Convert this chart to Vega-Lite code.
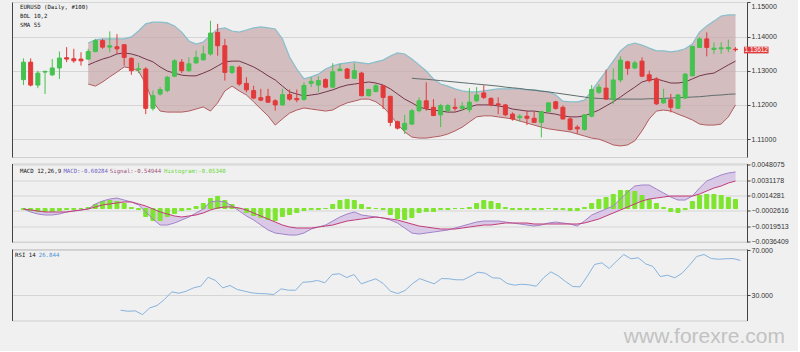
{
"$schema":"https://vega.github.io/schema/vega-lite/v6.json",
"background":"#f0f0f0",
"padding":{"left":11,"top":1,"right":9,"bottom":3},
"spacing":6.5,
"bounds":"flush",
"config":{
 "font":"Liberation Sans",
 "view":{"stroke":"#cfcfcf"},
 "axis":{"labelFont":"Liberation Sans","labelFontSize":7,"labelColor":"#333333","domainColor":"#444444","tickColor":"#444444","gridColor":"#d5d5d5","gridWidth":1,"tickSize":3,"labelPadding":1,"domainWidth":1},
 "text":{"font":"DejaVu Sans Mono","fontSize":5.7}
},
"datasets":{"k":[
{"i":0,"o":1.1274,"h":1.1336,"l":1.1258,"c":1.1325,"md":-0.00005,"sg":-0.00005,"hs":-0.00011},
{"i":1,"o":1.1325,"h":1.1336,"l":1.1254,"c":1.1258,"md":-0.00038,"sg":-0.00016,"hs":-0.00022},
{"i":2,"o":1.1258,"h":1.13,"l":1.1249,"c":1.1293,"md":-0.0006,"sg":-0.00027,"hs":-0.00033},
{"i":3,"o":1.1296,"h":1.13,"l":1.1232,"c":1.1298,"md":-0.00071,"sg":-0.00038,"hs":-0.00033},
{"i":4,"o":1.1288,"h":1.1334,"l":1.1284,"c":1.1308,"md":-0.00071,"sg":-0.00038,"hs":-0.00033},
{"i":5,"o":1.1308,"h":1.1356,"l":1.1276,"c":1.1337,"md":-0.0006,"sg":-0.00038,"hs":-0.00022},
{"i":6,"o":1.1338,"h":1.1369,"l":1.1325,"c":1.1334,"md":-0.00038,"sg":-0.00038,"hs":-0.00011},
{"i":7,"o":1.1335,"h":1.1364,"l":1.1323,"c":1.1329,"md":-0.00027,"sg":-0.00027,"hs":-0.00011},
{"i":8,"o":1.1334,"h":1.1354,"l":1.1315,"c":1.1329,"md":-0.00016,"sg":-0.00016,"hs":0},
{"i":9,"o":1.1334,"h":1.1364,"l":1.1332,"c":1.1356,"u":1.1381,"lo":1.1261,"m":1.1317,"md":-0.00005,"sg":-0.00005,"hs":0.00011},
{"i":10,"o":1.1356,"h":1.1393,"l":1.1354,"c":1.1388,"u":1.139,"lo":1.1255,"m":1.1326,"md":0.0005,"sg":0.00017,"hs":0.00044},
{"i":11,"o":1.1388,"h":1.1393,"l":1.1364,"c":1.1369,"u":1.1393,"lo":1.1267,"m":1.1334,"md":0.00083,"sg":0.00039,"hs":0.00077},
{"i":12,"o":1.1369,"h":1.1415,"l":1.1354,"c":1.1373,"u":1.1393,"lo":1.1282,"m":1.134,"md":0.00104,"sg":0.0005,"hs":0.00088},
{"i":13,"o":1.137,"h":1.1407,"l":1.1349,"c":1.1364,"u":1.1393,"lo":1.1296,"m":1.1349,"md":0.00115,"sg":0.00061,"hs":0.00077},
{"i":14,"o":1.1376,"h":1.1376,"l":1.1315,"c":1.1339,"u":1.1393,"lo":1.1311,"m":1.1352,"md":0.00093,"sg":0.00072,"hs":0.00055,"r":16.6},
{"i":15,"o":1.1336,"h":1.1339,"l":1.1288,"c":1.13,"u":1.1399,"lo":1.1308,"m":1.1349,"md":0.00072,"sg":0.00072,"hs":0.00011,"r":15.7},
{"i":16,"o":1.1303,"h":1.1323,"l":1.1293,"c":1.1306,"u":1.1416,"lo":1.1299,"m":1.1343,"md":0.00039,"sg":0.0005,"hs":-0.00011,"r":16},
{"i":17,"o":1.1305,"h":1.131,"l":1.1173,"c":1.119,"u":1.1437,"lo":1.1261,"m":1.1334,"md":-0.00038,"sg":0.00028,"hs":-0.00088,"r":12.7},
{"i":18,"o":1.119,"h":1.1242,"l":1.1183,"c":1.1227,"u":1.1442,"lo":1.1209,"m":1.1326,"md":-0.00115,"sg":-0.00005,"hs":-0.00132,"r":18.7},
{"i":19,"o":1.1232,"h":1.1252,"l":1.1227,"c":1.1245,"u":1.1442,"lo":1.1182,"m":1.1311,"md":-0.00181,"sg":-0.00038,"hs":-0.00132,"r":20.8},
{"i":20,"o":1.1242,"h":1.1285,"l":1.1237,"c":1.1281,"u":1.144,"lo":1.1179,"m":1.1299,"md":-0.00181,"sg":-0.0006,"hs":-0.00088,"r":26.2},
{"i":21,"o":1.1284,"h":1.1334,"l":1.1281,"c":1.1329,"u":1.1431,"lo":1.1179,"m":1.1293,"md":-0.00159,"sg":-0.00082,"hs":-0.00055,"r":33},
{"i":22,"o":1.1325,"h":1.1334,"l":1.1293,"c":1.13,"u":1.1413,"lo":1.1179,"m":1.1287,"md":-0.00126,"sg":-0.00093,"hs":-0.00022,"r":31.8},
{"i":23,"o":1.13,"h":1.1339,"l":1.1297,"c":1.132,"u":1.1387,"lo":1.1182,"m":1.1285,"md":-0.00093,"sg":-0.00082,"hs":-0.00011,"r":33.6},
{"i":24,"o":1.1323,"h":1.1359,"l":1.132,"c":1.1339,"u":1.1378,"lo":1.1188,"m":1.1285,"md":-0.00049,"sg":-0.00071,"hs":0.00022,"r":36.6},
{"i":25,"o":1.1332,"h":1.1373,"l":1.1329,"c":1.1349,"u":1.1384,"lo":1.1194,"m":1.1293,"md":-0.00005,"sg":-0.00049,"hs":0.00055,"r":38.1},
{"i":26,"o":1.1349,"h":1.1446,"l":1.1344,"c":1.141,"u":1.1404,"lo":1.1182,"m":1.1302,"md":0.00072,"sg":-0.00016,"hs":0.0011,"r":46.1},
{"i":27,"o":1.1412,"h":1.1437,"l":1.1344,"c":1.1373,"u":1.1422,"lo":1.1206,"m":1.1314,"md":0.00083,"sg":0.00006,"hs":0.00132,"r":43.2},
{"i":28,"o":1.1373,"h":1.1393,"l":1.1271,"c":1.1295,"u":1.1425,"lo":1.1241,"m":1.1326,"md":0.00072,"sg":0.00017,"hs":0.00088,"r":36.6},
{"i":29,"o":1.1295,"h":1.1315,"l":1.129,"c":1.1312,"u":1.1416,"lo":1.1255,"m":1.1328,"md":0.00028,"sg":0.00017,"hs":0.00044,"r":38.7},
{"i":30,"o":1.131,"h":1.1315,"l":1.1256,"c":1.1261,"u":1.1413,"lo":1.1241,"m":1.1328,"md":-0.00027,"sg":0.00006,"hs":0,"r":35.1},
{"i":31,"o":1.1263,"h":1.1281,"l":1.1237,"c":1.1244,"u":1.1419,"lo":1.1229,"m":1.132,"md":-0.00082,"sg":-0.00016,"hs":-0.00044,"r":33.6},
{"i":32,"o":1.1242,"h":1.1256,"l":1.1217,"c":1.122,"u":1.1425,"lo":1.1209,"m":1.1311,"md":-0.00126,"sg":-0.00049,"hs":-0.00077,"r":32.1},
{"i":33,"o":1.1221,"h":1.1247,"l":1.1211,"c":1.1214,"u":1.1428,"lo":1.1188,"m":1.1299,"md":-0.00181,"sg":-0.00082,"hs":-0.00099,"r":31.5},
{"i":34,"o":1.1225,"h":1.1247,"l":1.1206,"c":1.1208,"u":1.1425,"lo":1.1168,"m":1.1285,"md":-0.00236,"sg":-0.00115,"hs":-0.00121,"r":31.3},
{"i":35,"o":1.1212,"h":1.1217,"l":1.1183,"c":1.12,"u":1.1422,"lo":1.1141,"m":1.1273,"md":-0.00269,"sg":-0.00148,"hs":-0.00132,"r":30.6},
{"i":36,"o":1.12,"h":1.1247,"l":1.1198,"c":1.123,"u":1.1393,"lo":1.1159,"m":1.1255,"md":-0.0028,"sg":-0.00181,"hs":-0.00088,"r":35.7},
{"i":37,"o":1.123,"h":1.1245,"l":1.1212,"c":1.1217,"u":1.134,"lo":1.1176,"m":1.1238,"md":-0.00291,"sg":-0.00203,"hs":-0.00066,"r":34.5},
{"i":38,"o":1.1219,"h":1.1245,"l":1.1208,"c":1.1215,"u":1.1305,"lo":1.1185,"m":1.1232,"md":-0.00291,"sg":-0.00214,"hs":-0.00044,"r":34.5},
{"i":39,"o":1.1216,"h":1.1266,"l":1.1212,"c":1.1257,"u":1.1276,"lo":1.1191,"m":1.1226,"md":-0.00269,"sg":-0.00214,"hs":-0.00022,"r":41.6},
{"i":40,"o":1.1263,"h":1.1281,"l":1.1252,"c":1.1269,"u":1.1282,"lo":1.1188,"m":1.1229,"md":-0.00225,"sg":-0.00214,"hs":-0.00011,"r":42},
{"i":41,"o":1.1258,"h":1.1284,"l":1.1237,"c":1.1271,"u":1.129,"lo":1.1185,"m":1.1232,"md":-0.00203,"sg":-0.00203,"hs":-0.00011,"r":43.2},
{"i":42,"o":1.1274,"h":1.1278,"l":1.1249,"c":1.1252,"u":1.1305,"lo":1.1182,"m":1.1238,"md":-0.00181,"sg":-0.00192,"hs":0,"r":41.1},
{"i":43,"o":1.1252,"h":1.1322,"l":1.1249,"c":1.1297,"u":1.1314,"lo":1.1185,"m":1.1244,"md":-0.00137,"sg":-0.00181,"hs":0.00044,"r":48.5},
{"i":44,"o":1.13,"h":1.132,"l":1.1299,"c":1.1305,"u":1.132,"lo":1.1197,"m":1.1252,"md":-0.00093,"sg":-0.00159,"hs":0.00088,"r":49.2},
{"i":45,"o":1.1305,"h":1.1308,"l":1.1276,"c":1.1278,"u":1.1323,"lo":1.1206,"m":1.1258,"md":-0.0006,"sg":-0.00137,"hs":0.00099,"r":45.8},
{"i":46,"o":1.1278,"h":1.1322,"l":1.1276,"c":1.13,"u":1.1326,"lo":1.1211,"m":1.1261,"md":-0.00038,"sg":-0.00126,"hs":0.00088,"r":48.5},
{"i":47,"o":1.1293,"h":1.1297,"l":1.1225,"c":1.1227,"u":1.1323,"lo":1.1217,"m":1.1264,"md":-0.00071,"sg":-0.00115,"hs":0.00044,"r":40.2},
{"i":48,"o":1.1227,"h":1.1247,"l":1.1225,"c":1.1245,"u":1.132,"lo":1.1217,"m":1.1267,"md":-0.00082,"sg":-0.00104,"hs":0.00011,"r":42.5},
{"i":49,"o":1.1239,"h":1.1261,"l":1.1237,"c":1.1256,"u":1.1326,"lo":1.1209,"m":1.1264,"md":-0.00093,"sg":-0.00093,"hs":0,"r":44.7},
{"i":50,"o":1.1256,"h":1.1258,"l":1.1188,"c":1.1222,"u":1.1331,"lo":1.1194,"m":1.1258,"md":-0.00104,"sg":-0.00104,"hs":-0.00011,"r":40.5},
{"i":51,"o":1.1225,"h":1.1227,"l":1.1138,"c":1.1149,"u":1.1343,"lo":1.1171,"m":1.1247,"md":-0.00126,"sg":-0.00115,"hs":-0.00066,"r":33.6},
{"i":52,"o":1.1151,"h":1.1154,"l":1.1128,"c":1.1132,"u":1.1352,"lo":1.1144,"m":1.1232,"md":-0.00159,"sg":-0.00126,"hs":-0.0011,"r":31.5},
{"i":53,"o":1.1128,"h":1.1171,"l":1.1115,"c":1.1146,"u":1.1349,"lo":1.1121,"m":1.1217,"md":-0.00214,"sg":-0.00148,"hs":-0.00121,"r":34.2},
{"i":54,"o":1.1144,"h":1.1188,"l":1.1141,"c":1.1183,"u":1.1334,"lo":1.1106,"m":1.1206,"s":1.1278,"md":-0.00269,"sg":-0.0017,"hs":-0.00099,"r":40.2},
{"i":55,"o":1.1183,"h":1.1222,"l":1.1178,"c":1.1212,"u":1.1317,"lo":1.1103,"m":1.1194,"s":1.1276,"md":-0.0028,"sg":-0.00192,"hs":-0.00044,"r":44.9},
{"i":56,"o":1.1212,"h":1.1266,"l":1.1183,"c":1.119,"u":1.1299,"lo":1.1103,"m":1.1188,"s":1.1275,"md":-0.00269,"sg":-0.00203,"hs":-0.00033,"r":42.5},
{"i":57,"o":1.1193,"h":1.1217,"l":1.1167,"c":1.1169,"u":1.1276,"lo":1.1106,"m":1.1185,"s":1.1273,"md":-0.00258,"sg":-0.00214,"hs":-0.00033,"r":40.2},
{"i":58,"o":1.1171,"h":1.1203,"l":1.1135,"c":1.1198,"u":1.1261,"lo":1.1109,"m":1.1182,"s":1.1271,"md":-0.00247,"sg":-0.00225,"hs":-0.00011,"r":44.9},
{"i":59,"o":1.1183,"h":1.1203,"l":1.118,"c":1.1198,"u":1.1255,"lo":1.1115,"m":1.1179,"s":1.1269,"md":-0.00236,"sg":-0.00225,"hs":-0.00011,"r":44.7},
{"i":60,"o":1.1193,"h":1.1219,"l":1.1183,"c":1.119,"u":1.1247,"lo":1.1124,"m":1.1179,"s":1.1267,"md":-0.00214,"sg":-0.00225,"hs":0,"r":43.8},
{"i":61,"o":1.119,"h":1.1208,"l":1.1183,"c":1.1196,"u":1.1241,"lo":1.1135,"m":1.1185,"s":1.1265,"md":-0.00192,"sg":-0.00214,"hs":0,"r":43.8},
{"i":62,"o":1.1186,"h":1.1249,"l":1.1178,"c":1.1208,"u":1.1238,"lo":1.115,"m":1.1194,"s":1.1263,"md":-0.0017,"sg":-0.00203,"hs":0.00011,"r":47},
{"i":63,"o":1.1212,"h":1.1252,"l":1.1208,"c":1.1229,"u":1.1238,"lo":1.1165,"m":1.12,"s":1.1261,"md":-0.00148,"sg":-0.00192,"hs":0.00055,"r":50.6},
{"i":64,"o":1.1235,"h":1.1258,"l":1.1217,"c":1.1222,"u":1.1241,"lo":1.1168,"m":1.12,"s":1.1259,"md":-0.00137,"sg":-0.00181,"hs":0.00088,"r":49.7},
{"i":65,"o":1.1219,"h":1.1222,"l":1.1196,"c":1.12,"u":1.1244,"lo":1.1168,"m":1.12,"s":1.1257,"md":-0.00137,"sg":-0.00181,"hs":0.00077,"r":45.6},
{"i":66,"o":1.1203,"h":1.1222,"l":1.1173,"c":1.12,"u":1.1247,"lo":1.1165,"m":1.1197,"s":1.1255,"md":-0.00137,"sg":-0.0017,"hs":0.00055,"r":45.2},
{"i":67,"o":1.12,"h":1.1203,"l":1.1167,"c":1.1171,"u":1.1247,"lo":1.1162,"m":1.1194,"s":1.1252,"md":-0.00148,"sg":-0.00159,"hs":0.00011,"r":40.5},
{"i":68,"o":1.1173,"h":1.1178,"l":1.1154,"c":1.1159,"u":1.1247,"lo":1.1159,"m":1.1188,"s":1.125,"md":-0.00159,"sg":-0.00159,"hs":-0.00011,"r":39},
{"i":69,"o":1.1163,"h":1.1173,"l":1.1151,"c":1.1167,"u":1.1247,"lo":1.1153,"m":1.1185,"s":1.1248,"md":-0.0017,"sg":-0.00159,"hs":-0.00011,"r":39.8},
{"i":70,"o":1.1167,"h":1.1183,"l":1.1141,"c":1.1161,"u":1.1244,"lo":1.1147,"m":1.1182,"s":1.1245,"md":-0.00181,"sg":-0.00159,"hs":-0.00011,"r":39.3},
{"i":71,"o":1.1161,"h":1.118,"l":1.1147,"c":1.1149,"u":1.1244,"lo":1.1141,"m":1.1182,"s":1.1243,"md":-0.00192,"sg":-0.0017,"hs":-0.00011,"r":38.1},
{"i":72,"o":1.1149,"h":1.1183,"l":1.1105,"c":1.118,"u":1.1241,"lo":1.1135,"m":1.1179,"s":1.124,"md":-0.00181,"sg":-0.0017,"hs":-0.00011,"r":45.6},
{"i":73,"o":1.118,"h":1.1208,"l":1.1178,"c":1.1206,"u":1.1238,"lo":1.113,"m":1.1176,"s":1.1238,"md":-0.00159,"sg":-0.0017,"hs":0,"r":50.9},
{"i":74,"o":1.1209,"h":1.1212,"l":1.1186,"c":1.119,"u":1.1229,"lo":1.1127,"m":1.1173,"s":1.1235,"md":-0.00148,"sg":-0.0017,"hs":-0.00011,"r":47.4},
{"i":75,"o":1.1193,"h":1.1198,"l":1.1157,"c":1.1159,"u":1.1211,"lo":1.1124,"m":1.1168,"s":1.1232,"md":-0.00159,"sg":-0.0017,"hs":-0.00011,"r":42.3},
{"i":76,"o":1.1159,"h":1.1164,"l":1.1125,"c":1.1128,"u":1.1209,"lo":1.1121,"m":1.1165,"s":1.1229,"md":-0.0017,"sg":-0.0017,"hs":-0.00022,"r":37.8},
{"i":77,"o":1.1135,"h":1.1141,"l":1.1115,"c":1.113,"u":1.1209,"lo":1.1115,"m":1.1165,"s":1.1226,"md":-0.00192,"sg":-0.0017,"hs":-0.00022,"r":37.5},
{"i":78,"o":1.1128,"h":1.1173,"l":1.1125,"c":1.1171,"u":1.1214,"lo":1.1109,"m":1.1168,"s":1.1223,"md":-0.00137,"sg":-0.00159,"hs":0.00011,"r":47},
{"i":79,"o":1.1167,"h":1.1258,"l":1.1164,"c":1.1245,"u":1.1241,"lo":1.1103,"m":1.1176,"s":1.122,"md":-0.00071,"sg":-0.00137,"hs":0.00055,"r":57.5},
{"i":80,"o":1.1237,"h":1.1261,"l":1.1232,"c":1.1252,"u":1.127,"lo":1.11,"m":1.1185,"s":1.1219,"md":-0.00038,"sg":-0.00115,"hs":0.00099,"r":59},
{"i":81,"o":1.1249,"h":1.1303,"l":1.1215,"c":1.1217,"u":1.1299,"lo":1.1092,"m":1.1197,"s":1.1218,"md":-0.00005,"sg":-0.00082,"hs":0.00121,"r":53.9},
{"i":82,"o":1.1217,"h":1.1307,"l":1.1203,"c":1.1273,"u":1.1328,"lo":1.1083,"m":1.1209,"s":1.1217,"md":0.00028,"sg":-0.00049,"hs":0.00154,"r":60.4},
{"i":83,"o":1.1273,"h":1.1342,"l":1.1266,"c":1.1331,"u":1.1358,"lo":1.108,"m":1.1223,"s":1.1217,"md":0.00104,"sg":-0.00016,"hs":0.00198,"r":66.4},
{"i":84,"o":1.1326,"h":1.1329,"l":1.1288,"c":1.1307,"u":1.1375,"lo":1.1083,"m":1.1238,"s":1.1217,"md":0.00181,"sg":0.00017,"hs":0.00198,"r":62.6},
{"i":85,"o":1.1308,"h":1.1329,"l":1.1305,"c":1.1323,"u":1.1381,"lo":1.1095,"m":1.1252,"s":1.1217,"md":0.00247,"sg":0.0005,"hs":0.00187,"r":63.5},
{"i":86,"o":1.1328,"h":1.1339,"l":1.1281,"c":1.1284,"u":1.1375,"lo":1.1124,"m":1.1267,"s":1.1217,"md":0.00258,"sg":0.00083,"hs":0.00143,"r":58.1},
{"i":87,"o":1.1288,"h":1.13,"l":1.1266,"c":1.1271,"u":1.1366,"lo":1.1159,"m":1.1273,"s":1.1218,"md":0.00258,"sg":0.00104,"hs":0.00099,"r":55.7},
{"i":88,"o":1.1276,"h":1.1281,"l":1.12,"c":1.1203,"u":1.1358,"lo":1.1182,"m":1.1276,"s":1.1218,"md":0.00214,"sg":0.00115,"hs":0.00055,"r":46.7},
{"i":89,"o":1.1206,"h":1.1247,"l":1.1203,"c":1.1217,"u":1.1358,"lo":1.1185,"m":1.127,"s":1.1219,"md":0.0017,"sg":0.00126,"hs":0.00011,"r":47.9},
{"i":90,"o":1.1215,"h":1.1232,"l":1.1178,"c":1.1193,"u":1.1355,"lo":1.1182,"m":1.1264,"s":1.122,"md":0.00126,"sg":0.00137,"hs":-0.00033,"r":45.6},
{"i":91,"o":1.119,"h":1.1232,"l":1.1188,"c":1.1229,"u":1.1358,"lo":1.1173,"m":1.1264,"s":1.1221,"md":0.00093,"sg":0.00137,"hs":-0.00044,"r":49.7},
{"i":92,"o":1.122,"h":1.1293,"l":1.1217,"c":1.129,"u":1.1364,"lo":1.1165,"m":1.1267,"s":1.1222,"md":0.00093,"sg":0.00137,"hs":-0.00011,"r":56.8},
{"i":93,"o":1.1285,"h":1.1373,"l":1.1284,"c":1.1371,"u":1.1378,"lo":1.1156,"m":1.1276,"s":1.1223,"md":0.00137,"sg":0.00137,"hs":0.00077,"r":64.6},
{"i":94,"o":1.1368,"h":1.1398,"l":1.1366,"c":1.1393,"u":1.1413,"lo":1.1144,"m":1.1285,"s":1.1224,"md":0.00225,"sg":0.00159,"hs":0.00143,"r":66.4},
{"i":95,"o":1.1393,"h":1.1412,"l":1.1342,"c":1.1368,"u":1.1431,"lo":1.1141,"m":1.129,"s":1.1226,"md":0.00302,"sg":0.00192,"hs":0.00154,"r":62.8},
{"i":96,"o":1.1362,"h":1.1383,"l":1.1349,"c":1.1366,"u":1.1445,"lo":1.1141,"m":1.1293,"s":1.1228,"md":0.00335,"sg":0.00225,"hs":0.00154,"r":62.2},
{"i":97,"o":1.1364,"h":1.1383,"l":1.1349,"c":1.1367,"u":1.146,"lo":1.1144,"m":1.1305,"s":1.1229,"md":0.00368,"sg":0.00247,"hs":0.00143,"r":62.6},
{"i":98,"o":1.1364,"h":1.1391,"l":1.1354,"c":1.1368,"u":1.1463,"lo":1.1165,"m":1.1317,"s":1.1231,"md":0.0039,"sg":0.0028,"hs":0.00121,"r":62.8},
{"i":99,"o":1.1363,"h":1.1369,"l":1.1356,"c":1.13612,"u":1.1463,"lo":1.12,"m":1.1328,"s":1.1232,"md":0.00401,"sg":0.00302,"hs":0.00099,"r":61.1}
]},
"vconcat":[
{"width":735,"height":155,
 "resolve":{"axis":{"y":"independent"}},
 "layer":[
  {"data":{"name":"k"},"mark":{"type":"area","color":"#c8a7aa","opacity":0.7},
   "encoding":{
    "x":{"field":"i","type":"quantitative","scale":{"domain":[-0.9,99.9],"nice":false,"zero":false},"axis":{"values":[4,8,12,16,20,24,28,32,36,40,44,48,52,56,60,64,68,72,76,80,84,88,92,96],"labels":false,"grid":true,"title":null}},
    "y":{"field":"u","type":"quantitative","scale":{"domain":[1.10477,1.15009],"nice":false,"zero":false},"axis":{"orient":"right","values":[1.11,1.12,1.13,1.14,1.15],"format":".5f","grid":true,"title":null,"labelFlush":1}},
    "y2":{"field":"lo"}}},
  {"data":{"name":"k"},"mark":{"type":"line","color":"#86bfcb","strokeWidth":1.2},
   "encoding":{"x":{"field":"i","type":"quantitative","scale":{"domain":[-0.9,99.9],"nice":false,"zero":false},"axis":null},
    "y":{"field":"u","type":"quantitative","scale":{"domain":[1.10477,1.15009],"nice":false,"zero":false},"axis":null}}},
  {"data":{"name":"k"},"mark":{"type":"line","color":"#b35c60","strokeWidth":1},
   "encoding":{"x":{"field":"i","type":"quantitative","scale":{"domain":[-0.9,99.9],"nice":false,"zero":false},"axis":null},
    "y":{"field":"lo","type":"quantitative","scale":{"domain":[1.10477,1.15009],"nice":false,"zero":false},"axis":null}}},
  {"data":{"name":"k"},"mark":{"type":"line","color":"#73364a","strokeWidth":1},
   "encoding":{"x":{"field":"i","type":"quantitative","scale":{"domain":[-0.9,99.9],"nice":false,"zero":false},"axis":null},
    "y":{"field":"m","type":"quantitative","scale":{"domain":[1.10477,1.15009],"nice":false,"zero":false},"axis":{"orient":"left","labels":false,"ticks":false,"grid":false,"title":null}}}},
  {"data":{"name":"k"},"mark":{"type":"line","color":"#5f6d6d","strokeWidth":1},
   "encoding":{"x":{"field":"i","type":"quantitative","scale":{"domain":[-0.9,99.9],"nice":false,"zero":false},"axis":null},
    "y":{"field":"s","type":"quantitative","scale":{"domain":[1.10477,1.15009],"nice":false,"zero":false},"axis":null}}},
  {"data":{"name":"k"},"mark":{"type":"rule","strokeWidth":1},
   "encoding":{"x":{"field":"i","type":"quantitative","scale":{"domain":[-0.9,99.9],"nice":false,"zero":false},"axis":null},
    "y":{"field":"l","type":"quantitative","scale":{"domain":[1.10477,1.15009],"nice":false,"zero":false},"axis":null},
    "y2":{"field":"h"},
    "color":{"condition":{"test":"datum.c >= datum.o","value":"#45c24f"},"value":"#e23a3a"}}},
  {"data":{"name":"k"},"mark":{"type":"bar","size":4,"strokeWidth":1},
   "encoding":{"x":{"field":"i","type":"quantitative","scale":{"domain":[-0.9,99.9],"nice":false,"zero":false},"axis":null},
    "y":{"field":"o","type":"quantitative","scale":{"domain":[1.10477,1.15009],"nice":false,"zero":false},"axis":null},
    "y2":{"field":"c"},
    "fill":{"condition":{"test":"datum.c >= datum.o","value":"#45c24f"},"value":"#e23a3a"},
    "stroke":{"condition":{"test":"datum.c >= datum.o","value":"#45c24f"},"value":"#e23a3a"}}},
  {"data":{"values":[{}]},"mark":{"type":"text","align":"left","baseline":"middle","color":"#111111"},
   "encoding":{"x":{"datum":-0.48,"type":"quantitative","scale":{"domain":[-0.9,99.9],"nice":false,"zero":false},"axis":null},
    "y":{"datum":1.1486,"type":"quantitative","scale":{"domain":[1.10477,1.15009],"nice":false,"zero":false},"axis":null},
    "text":{"value":"EURUSD (Daily, #100)"}}},
  {"data":{"values":[{}]},"mark":{"type":"text","align":"left","baseline":"middle","color":"#111111"},
   "encoding":{"x":{"datum":-0.48,"type":"quantitative","scale":{"domain":[-0.9,99.9],"nice":false,"zero":false},"axis":null},
    "y":{"datum":1.146,"type":"quantitative","scale":{"domain":[1.10477,1.15009],"nice":false,"zero":false},"axis":null},
    "text":{"value":"BOL 10,2"}}},
  {"data":{"values":[{}]},"mark":{"type":"text","align":"left","baseline":"middle","color":"#111111"},
   "encoding":{"x":{"datum":-0.48,"type":"quantitative","scale":{"domain":[-0.9,99.9],"nice":false,"zero":false},"axis":null},
    "y":{"datum":1.1434,"type":"quantitative","scale":{"domain":[1.10477,1.15009],"nice":false,"zero":false},"axis":null},
    "text":{"value":"SMA 55"}}},
  {"data":{"values":[{}]},"mark":{"type":"rect","color":"#e03c3c"},
   "encoding":{"x":{"datum":100.17,"type":"quantitative","scale":{"domain":[-0.9,99.9],"nice":false,"zero":false},"axis":null},
    "x2":{"datum":103.59},
    "y":{"datum":1.13506,"type":"quantitative","scale":{"domain":[1.10477,1.15009],"nice":false,"zero":false},"axis":null},
    "y2":{"datum":1.13702}}},
  {"data":{"values":[{}]},"mark":{"type":"text","align":"center","baseline":"middle","font":"Liberation Sans","fontSize":6.5,"color":"#ffffff"},
   "encoding":{"x":{"datum":101.88,"type":"quantitative","scale":{"domain":[-0.9,99.9],"nice":false,"zero":false},"axis":null},
    "y":{"datum":1.13612,"type":"quantitative","scale":{"domain":[1.10477,1.15009],"nice":false,"zero":false},"axis":null},
    "text":{"value":"1.13612"}}}
 ]},
{"width":735,"height":78.5,
 "resolve":{"axis":{"y":"independent"}},
 "layer":[
  {"data":{"name":"k"},"mark":{"type":"area","color":"#d6c4e6","opacity":0.9},
   "encoding":{
    "x":{"field":"i","type":"quantitative","scale":{"domain":[-0.9,99.9],"nice":false,"zero":false},"axis":{"values":[4,8,12,16,20,24,28,32,36,40,44,48,52,56,60,64,68,72,76,80,84,88,92,96],"labels":false,"grid":true,"title":null}},
    "y":{"field":"md","type":"quantitative","scale":{"domain":[-0.0036734,0.0049397],"nice":false,"zero":false},"axis":{"orient":"right","values":[-0.0036409,-0.0019513,-0.0002616,0.0014281,0.0031178,0.0048075],"format":".7f","grid":true,"title":null,"labelLimit":46}},
    "y2":{"field":"sg"}}},
  {"data":{"name":"k"},"mark":{"type":"bar","size":4,"strokeWidth":1,"fill":"#7ee52e","stroke":"#7ee52e"},
   "encoding":{"x":{"field":"i","type":"quantitative","scale":{"domain":[-0.9,99.9],"nice":false,"zero":false},"axis":null},
    "y":{"field":"hs","type":"quantitative","scale":{"domain":[-0.0036734,0.0049397],"nice":false,"zero":false},"axis":null},
    "y2":{"datum":0}}},
  {"data":{"name":"k"},"mark":{"type":"line","color":"#a283c9","strokeWidth":1},
   "encoding":{"x":{"field":"i","type":"quantitative","scale":{"domain":[-0.9,99.9],"nice":false,"zero":false},"axis":null},
    "y":{"field":"md","type":"quantitative","scale":{"domain":[-0.0036734,0.0049397],"nice":false,"zero":false},"axis":{"orient":"left","labels":false,"ticks":false,"grid":false,"title":null}}}},
  {"data":{"name":"k"},"mark":{"type":"line","color":"#c23c77","strokeWidth":1},
   "encoding":{"x":{"field":"i","type":"quantitative","scale":{"domain":[-0.9,99.9],"nice":false,"zero":false},"axis":null},
    "y":{"field":"sg","type":"quantitative","scale":{"domain":[-0.0036734,0.0049397],"nice":false,"zero":false},"axis":null}}},
  {"data":{"values":[{}]},"mark":{"type":"text","align":"left","baseline":"middle","color":"#111111"},
   "encoding":{"x":{"datum":-0.48,"type":"quantitative","scale":{"domain":[-0.9,99.9],"nice":false,"zero":false},"axis":null},
    "y":{"datum":0.00415,"type":"quantitative","scale":{"domain":[-0.0036734,0.0049397],"nice":false,"zero":false},"axis":null},
    "text":{"value":"MACD 12,26,9"}}},
  {"data":{"values":[{}]},"mark":{"type":"text","align":"left","baseline":"middle","color":"#6f62c4"},
   "encoding":{"x":{"datum":5.55,"type":"quantitative","scale":{"domain":[-0.9,99.9],"nice":false,"zero":false},"axis":null},
    "y":{"datum":0.00415,"type":"quantitative","scale":{"domain":[-0.0036734,0.0049397],"nice":false,"zero":false},"axis":null},
    "text":{"value":"MACD:-0.60284"}}},
  {"data":{"values":[{}]},"mark":{"type":"text","align":"left","baseline":"middle","color":"#a0507a"},
   "encoding":{"x":{"datum":12.0,"type":"quantitative","scale":{"domain":[-0.9,99.9],"nice":false,"zero":false},"axis":null},
    "y":{"datum":0.00415,"type":"quantitative","scale":{"domain":[-0.0036734,0.0049397],"nice":false,"zero":false},"axis":null},
    "text":{"value":"Signal:-0.54944"}}},
  {"data":{"values":[{}]},"mark":{"type":"text","align":"left","baseline":"middle","color":"#6ad83a"},
   "encoding":{"x":{"datum":19.54,"type":"quantitative","scale":{"domain":[-0.9,99.9],"nice":false,"zero":false},"axis":null},
    "y":{"datum":0.00415,"type":"quantitative","scale":{"domain":[-0.0036734,0.0049397],"nice":false,"zero":false},"axis":null},
    "text":{"value":"Histogram:-0.05340"}}}
 ]},
{"width":735,"height":71.5,
 "resolve":{"axis":{"y":"independent"}},
 "layer":[
  {"data":{"name":"k"},"mark":{"type":"line","color":"#86b3dd","strokeWidth":1},
   "encoding":{
    "x":{"field":"i","type":"quantitative","scale":{"domain":[-0.9,99.9],"nice":false,"zero":false},"axis":{"values":[4,8,12,16,20,24,28,32,36,40,44,48,52,56,60,64,68,72,76,80,84,88,92,96],"labelExpr":"['02/18','02/22','02/28','03/06','03/12','03/18','03/22','03/28','04/03','04/09','04/15','04/19','04/25','05/01','05/07','05/13','05/17','05/23','05/29','06/04','06/10','06/14','06/20','06/26'][datum.value/4-1]","labelFontSize":7.5,"labelOverlap":false,"labelFlush":false,"grid":true,"title":null}},
    "y":{"field":"r","type":"quantitative","scale":{"domain":[7.4,71.34],"nice":false,"zero":false},"axis":{"orient":"right","values":[30,70],"format":".3f","grid":true,"title":null}}}},
  {"data":{"values":[{}]},"mark":{"type":"text","align":"left","baseline":"middle","color":"#111111"},
   "encoding":{"x":{"datum":-0.48,"type":"quantitative","scale":{"domain":[-0.9,99.9],"nice":false,"zero":false},"axis":null},
    "y":{"datum":66.4,"type":"quantitative","scale":{"domain":[7.4,71.34],"nice":false,"zero":false},"axis":{"orient":"left","labels":false,"ticks":false,"grid":false,"title":null}},
    "text":{"value":"RSI 14"}}},
  {"data":{"values":[{}]},"mark":{"type":"text","align":"left","baseline":"middle","color":"#4a90d0"},
   "encoding":{"x":{"datum":2.77,"type":"quantitative","scale":{"domain":[-0.9,99.9],"nice":false,"zero":false},"axis":null},
    "y":{"datum":66.4,"type":"quantitative","scale":{"domain":[7.4,71.34],"nice":false,"zero":false},"axis":null},
    "text":{"value":"26.844"}}},
  {"data":{"values":[{}]},"mark":{"type":"text","align":"right","baseline":"alphabetic","font":"Liberation Sans","fontSize":21,"color":"#c2c2c2"},
   "encoding":{"x":{"datum":105.1,"type":"quantitative","scale":{"domain":[-0.9,99.9],"nice":false,"zero":false},"axis":null},
    "y":{"datum":-12.6,"type":"quantitative","scale":{"domain":[7.4,71.34],"nice":false,"zero":false},"axis":null},
    "text":{"value":"www.forexre.com"}}}
 ]}
]
}
